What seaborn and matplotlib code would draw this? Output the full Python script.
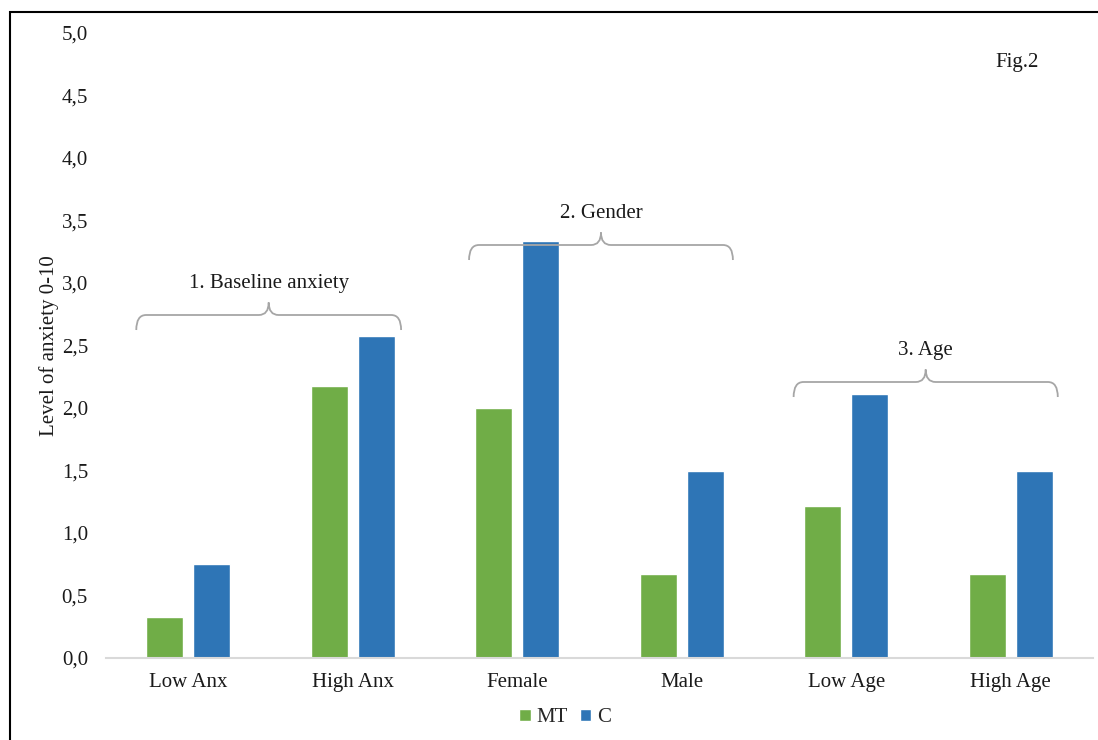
import matplotlib
matplotlib.use("Agg")
import matplotlib.pyplot as plt
from matplotlib.path import Path
from matplotlib.patches import PathPatch, Rectangle
import seaborn as sns
import pandas as pd

categories = ["Low Anx", "High Anx", "Female", "Male", "Low Age", "High Age"]
mt_values = [0.33, 2.18, 2.00, 0.67, 1.22, 0.67]
c_values = [0.75, 2.58, 3.34, 1.50, 2.11, 1.50]
series_names = ["MT", "C"]
y_ticks = [0.0, 0.5, 1.0, 1.5, 2.0, 2.5, 3.0, 3.5, 4.0, 4.5, 5.0]
group_labels = ["1. Baseline anxiety", "2. Gender", "3. Age"]

df = pd.DataFrame({
    "category": categories * 2,
    "series": [series_names[0]] * len(categories) + [series_names[1]] * len(categories),
    "value": mt_values + c_values,
})

sns.set_theme(style="white")
plt.rcParams["font.family"] = ["Liberation Serif", "DejaVu Serif"]

fig = plt.figure(figsize=(10.98, 7.40), dpi=100)
ax = fig.add_axes([106 / 1098, 1 - 658 / 740, (1093 - 106) / 1098, (658 - 33) / 740])

palette = {"MT": "#70AD47", "C": "#2E75B6"}
sns.barplot(data=df, x="category", y="value", hue="series", order=categories,
            hue_order=series_names, palette=palette, width=0.571, gap=0.21,
            saturation=1, ax=ax, legend=True)

ax.set_ylim(0, 5)
ax.set_xlim(-0.5, len(categories) - 0.5)
ax.set_yticks(y_ticks)
ax.set_yticklabels([f"{t:.1f}".replace(".", ",") for t in y_ticks], fontsize=15,
                   color="#1a1a1a")
ax.tick_params(axis="x", labelsize=15, length=0, pad=11, labelcolor="#1a1a1a")
ax.tick_params(axis="y", length=0, pad=13)
ax.set_xlabel("")
ax.set_ylabel("Level of anxiety 0-10", fontsize=15, color="#1a1a1a")
ax.yaxis.set_label_coords(-0.048, 0.5)
for side in ["top", "right", "left"]:
    ax.spines[side].set_visible(False)
ax.spines["bottom"].set_color("#D9D9D9")
ax.spines["bottom"].set_linewidth(1.5)
ax.grid(False)


def brace(ax, x0, x1, y, drop, rise, color="#A6A6A6"):
    xm = (x0 + x1) / 2
    r = 0.06
    verts = [
        (x0, y - drop), (x0, y), (x0 + r, y),
        (xm - r, y), (xm, y), (xm, y + rise),
        (xm, y), (xm + r, y),
        (x1 - r, y), (x1, y), (x1, y - drop),
    ]
    codes = [
        Path.MOVETO, Path.CURVE3, Path.CURVE3,
        Path.LINETO, Path.CURVE3, Path.CURVE3,
        Path.CURVE3, Path.CURVE3,
        Path.LINETO, Path.CURVE3, Path.CURVE3,
    ]
    ax.add_patch(PathPatch(Path(verts, codes), fill=False, edgecolor=color,
                           linewidth=1.3, clip_on=False))


brace_spans = [(-0.316, 1.294, 2.744), (1.707, 3.311, 3.304), (3.68, 5.286, 2.208)]
for (x0, x1, y), label in zip(brace_spans, group_labels):
    brace(ax, x0, x1, y, drop=0.12, rise=0.1)
    ax.text((x0 + x1) / 2, y + 0.25, label, ha="center", va="center", fontsize=15,
            color="#1a1a1a")

fig.text(1017 / 1098, 1 - 62 / 740, "Fig.2", ha="center", va="center", fontsize=15,
         color="#1a1a1a")

handles, labels = ax.get_legend_handles_labels()
ax.get_legend().remove()
fig.legend(handles, labels, loc="center", bbox_to_anchor=(565 / 1098, 1 - 718 / 740),
           ncol=2, frameon=False, fontsize=15, handlelength=0.55, handleheight=0.55,
           handletextpad=0.25, columnspacing=0.6)

fig.patches.append(Rectangle((10 / 1098, -0.05), 1.2, 1 - 12 / 740 + 0.05,
                             transform=fig.transFigure, fill=False,
                             edgecolor="black", linewidth=1.5))

fig.savefig("out.png", dpi=100)
